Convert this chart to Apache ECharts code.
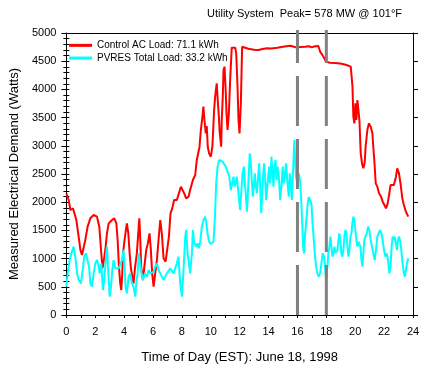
<!DOCTYPE html>
<html>
<head>
<meta charset="utf-8">
<script src="https://cdn.jsdelivr.net/npm/echarts@6/dist/echarts.min.js"></script>
<style>
html,body{margin:0;padding:0;background:#fff;}
#chart{width:433px;height:381px;}
</style>
</head>
<body>
<div id="chart"></div>
<script>
var titleText = 'Utility System  Peak= 578 MW @ 101°F';
var xAxisName = 'Time of Day (EST): June 18, 1998';
var yAxisName = 'Measured Electrical Demand (Watts)';
var acName = 'Control AC Load: 71.1 kWh';
var pvName = 'PVRES Total Load: 33.2 kWh';
var markerHours = [16, 18];

var acHours = [0.00,0.16,0.28,0.46,0.58,0.69,0.85,0.97,1.08,1.20,1.31,1.47,1.66,1.89,2.12,2.28,2.40,2.50,2.60,2.72,2.81,2.93,3.16,3.32,3.46,3.55,3.64,3.73,3.80,3.87,3.92,4.00,4.12,4.19,4.29,4.38,4.47,4.56,4.65,4.76,4.88,5.05,5.11,5.18,5.30,5.40,5.53,5.64,5.76,5.85,5.94,6.04,6.15,6.27,6.38,6.50,6.61,6.73,6.87,7.00,7.10,7.21,7.33,7.46,7.65,7.79,7.93,8.02,8.16,8.29,8.46,8.57,8.76,8.92,9.03,9.22,9.31,9.42,9.49,9.56,9.65,9.72,9.79,9.88,10.00,10.11,10.23,10.30,10.41,10.48,10.56,10.62,10.72,10.76,10.83,10.88,10.95,11.02,11.09,11.16,11.25,11.34,11.45,11.57,11.69,11.76,11.85,11.92,11.99,12.08,12.17,12.30,12.60,13.00,13.30,13.60,13.88,14.20,14.60,15.00,15.50,15.70,15.95,16.20,16.53,16.80,16.99,17.20,17.45,17.57,17.70,17.80,17.98,18.25,18.60,18.95,19.20,19.40,19.69,19.81,19.87,19.94,20.01,20.08,20.15,20.29,20.38,20.47,20.56,20.65,20.72,20.84,20.95,21.07,21.19,21.25,21.32,21.42,21.53,21.65,21.79,21.90,22.02,22.13,22.25,22.36,22.45,22.57,22.68,22.82,22.91,23.03,23.15,23.26,23.37,23.51,23.67];
var acLoad = [2157,2039,1862,1890,1860,1684,1390,1155,1065,1065,1330,1566,1714,1773,1743,1566,1152,827,975,1212,1448,1625,1684,1714,1625,1330,857,561,443,739,1093,1270,1507,1625,1448,1093,827,857,561,857,1093,1714,1390,857,620,857,1152,1270,1448,1152,739,502,739,975,1330,1684,1448,1005,946,946,1390,1803,1891,2039,2039,2157,2275,2305,2157,2068,2098,2216,2394,2482,2748,2984,3280,3517,3694,3457,3220,3350,2984,2866,2807,2984,3635,3871,4107,3812,3517,3221,2984,3457,3871,4344,4403,4048,3575,3280,3575,4166,4740,4740,4740,4640,4048,3457,3220,3753,4757,4730,4720,4705,4698,4715,4728,4725,4740,4757,4775,4760,4740,4750,4757,4765,4745,4765,4770,4669,4620,4580,4491,4474,4470,4460,4445,4432,4403,4048,3517,3398,3753,3457,3812,3457,2866,2689,2600,2689,2984,3280,3398,3339,3221,2984,2748,2334,2275,2157,2098,2009,1950,1891,1980,2157,2305,2334,2305,2453,2600,2512,2305,2068,1950,1832,1743];

var pvHours = [0.00,0.09,0.23,0.35,0.50,0.62,0.74,0.85,1.01,1.10,1.24,1.34,1.43,1.57,1.66,1.77,1.89,2.00,2.12,2.24,2.30,2.42,2.53,2.62,2.76,2.81,2.88,3.00,3.09,3.18,3.27,3.39,3.50,3.62,3.73,3.85,3.96,4.03,4.10,4.19,4.31,4.42,4.54,4.65,4.77,4.84,4.93,5.02,5.11,5.21,5.30,5.44,5.58,5.69,5.81,6.04,6.15,6.27,6.38,6.50,6.61,6.73,6.96,7.19,7.42,7.65,7.76,7.88,8.00,8.10,8.23,8.30,8.39,8.46,8.57,8.69,8.76,8.85,8.99,9.08,9.17,9.27,9.38,9.50,9.61,9.68,9.77,9.88,10.00,10.09,10.19,10.30,10.37,10.47,10.58,10.70,10.81,10.93,11.04,11.16,11.28,11.39,11.48,11.57,11.64,11.71,11.80,11.87,11.96,12.03,12.12,12.20,12.29,12.36,12.42,12.50,12.56,12.63,12.70,12.77,12.84,12.91,12.98,13.05,13.12,13.19,13.28,13.35,13.42,13.49,13.55,13.62,13.69,13.76,13.83,13.90,13.97,14.04,14.11,14.20,14.27,14.34,14.41,14.48,14.55,14.62,14.71,14.80,14.89,14.98,15.05,15.12,15.21,15.31,15.40,15.47,15.54,15.61,15.68,15.75,15.79,15.84,15.90,16.00,16.09,16.18,16.25,16.32,16.39,16.46,16.53,16.60,16.69,16.78,16.87,16.97,17.03,17.10,17.20,17.29,17.38,17.47,17.57,17.66,17.75,17.85,17.91,17.98,18.07,18.14,18.21,18.28,18.35,18.42,18.49,18.56,18.63,18.70,18.77,18.84,18.90,18.97,19.04,19.11,19.18,19.25,19.32,19.39,19.46,19.53,19.60,19.67,19.74,19.80,19.87,19.94,20.01,20.08,20.15,20.22,20.29,20.36,20.43,20.50,20.56,20.63,20.70,20.80,20.89,20.98,21.07,21.16,21.25,21.35,21.44,21.53,21.62,21.72,21.81,21.90,21.99,22.08,22.18,22.27,22.36,22.45,22.52,22.59,22.66,22.73,22.82,22.89,22.96,23.03,23.10,23.19,23.28,23.37,23.44,23.51,23.58,23.67];
var pvLoad = [502,739,975,1093,1212,1034,739,620,561,739,1034,1093,1005,857,561,502,739,916,975,857,739,916,443,620,1093,1212,857,325,502,798,975,827,827,827,857,975,1152,857,502,384,680,739,561,502,325,561,739,1093,916,739,620,739,680,798,739,768,857,916,798,739,680,620,739,827,739,916,1034,561,325,739,1390,1507,1093,975,739,1093,1507,1270,1212,1270,1182,1300,1566,1684,1743,1650,1450,1300,1260,1241,1300,1803,2334,2630,2748,2778,2720,2689,2630,2660,2453,2216,2334,2453,2275,2334,2453,2275,2039,1862,2216,2512,2630,2334,2157,1832,2098,2512,2866,2689,2394,2098,2275,2512,2275,2157,2453,2689,2275,1803,2098,2453,2689,2453,2039,2216,2453,2630,2334,2807,2512,2275,2630,2748,2394,2630,2453,2039,2275,2630,2334,2453,2689,2334,2098,2512,2334,2039,2453,2896,3103,2748,2453,2334,2512,2394,2098,1684,1212,1093,1448,1625,1921,2092,2127,1980,1684,1448,1093,857,739,680,739,916,1093,1034,857,620,857,1093,1212,1389,1212,1034,1093,1212,1093,1093,1152,1330,1448,1330,1093,1034,1152,1389,1507,1448,1212,1034,1152,1389,1448,1625,1743,1684,1507,1330,1212,1300,1330,1212,975,857,1093,1330,1389,1448,1566,1507,1330,1212,1093,975,1152,1389,1448,1507,1448,1330,1152,1034,1093,975,739,857,1212,1389,1330,1389,1270,1152,1330,1389,1330,1152,916,739,680,798,916,1005];

function pairs(xs, ys) { return xs.map(function (x, i) { return [x, ys[i]]; }); }

var FONT = '"Liberation Sans", Arial, sans-serif';
var chart = echarts.init(document.getElementById('chart'), null, {renderer: 'canvas'});

var markerSeries = markerHours.map(function (h) {
  return {
    type: 'line', xAxisIndex: 0, yAxisIndex: 0,
    data: [[h, 0], [h, 5055]],
    clip: false, showSymbol: false, symbol: 'none', silent: true,
    lineStyle: {color: '#808080', width: 3, type: [50, 13]},
    z: 5
  };
});

chart.setOption({
  animation: false,
  backgroundColor: '#ffffff',
  textStyle: {fontFamily: FONT},
  title: {
    text: titleText,
    right: 31, top: 8, padding: 0,
    textStyle: {fontSize: 11, fontWeight: 'normal', color: '#000', fontFamily: FONT}
  },
  legend: {
    data: [acName, pvName],
    orient: 'vertical',
    left: 69, top: 39,
    padding: 0,
    itemGap: 0,
    itemWidth: 23, itemHeight: 3,
    icon: 'rect',
    textStyle: {fontSize: 10, color: '#000', fontFamily: FONT, lineHeight: 12.7, padding: [0, 0, 0, 0]},
    selectedMode: false
  },
  grid: {left: 66, right: 20, top: 33, bottom: 66, containLabel: false},
  xAxis: [
    {
      type: 'value', position: 'bottom', min: 0, max: 24, interval: 2,
      name: xAxisName, nameLocation: 'middle', nameGap: 36,
      nameTextStyle: {fontSize: 13, color: '#000', fontFamily: FONT},
      axisLine: {show: true, lineStyle: {color: '#000', width: 1}},
      axisTick: {show: true, length: 3, lineStyle: {color: '#000'}},
      minorTick: {show: true, splitNumber: 2, length: 3, lineStyle: {color: '#000'}},
      axisLabel: {fontSize: 11, color: '#000', margin: 11, fontFamily: FONT},
      splitLine: {show: false}
    },
    {
      type: 'value', position: 'top', min: 0, max: 24,
      axisLine: {show: true, onZero: false, lineStyle: {color: '#000', width: 1}},
      axisTick: {show: false}, axisLabel: {show: false}, splitLine: {show: false}
    }
  ],
  yAxis: [
    {
      type: 'value', position: 'left', min: 0, max: 5000, interval: 500,
      name: yAxisName, nameLocation: 'middle', nameGap: 40,
      nameTextStyle: {fontSize: 13, color: '#000', fontFamily: FONT},
      axisLine: {show: true, onZero: false, lineStyle: {color: '#000', width: 1}},
      axisTick: {show: true, length: 5, lineStyle: {color: '#000'}},
      axisLabel: {fontSize: 11, color: '#000', margin: 10, fontFamily: FONT,
        formatter: function (v) { return String(v); }},
      splitLine: {show: false}
    },
    {
      type: 'value', position: 'left', min: 0, max: 5000, interval: 100,
      axisLine: {show: false},
      axisTick: {show: true, inside: true, length: 3, lineStyle: {color: '#000'}},
      axisLabel: {show: false}, splitLine: {show: false}
    },
    {
      type: 'value', position: 'right', min: 0, max: 5000, interval: 500,
      axisLine: {show: true, onZero: false, lineStyle: {color: '#000', width: 1}},
      axisTick: {show: true, length: 5, lineStyle: {color: '#000'}},
      axisLabel: {show: false}, splitLine: {show: false}
    },
    {
      type: 'value', position: 'right', min: 0, max: 5000, interval: 100,
      axisLine: {show: false},
      axisTick: {show: true, inside: true, length: 3, lineStyle: {color: '#000'}},
      axisLabel: {show: false}, splitLine: {show: false}
    }
  ],
  series: [
    {
      name: acName, type: 'line', xAxisIndex: 0, yAxisIndex: 0,
      data: pairs(acHours, acLoad),
      showSymbol: false, symbol: 'none',
      itemStyle: {color: '#ff0000'},
      lineStyle: {color: '#ff0000', width: 2},
      z: 3
    },
    {
      name: pvName, type: 'line', xAxisIndex: 0, yAxisIndex: 0,
      data: pairs(pvHours, pvLoad),
      showSymbol: false, symbol: 'none',
      itemStyle: {color: '#00ffff'},
      lineStyle: {color: '#00ffff', width: 2},
      z: 4
    }
  ].concat(markerSeries)
});
</script>
</body>
</html>
